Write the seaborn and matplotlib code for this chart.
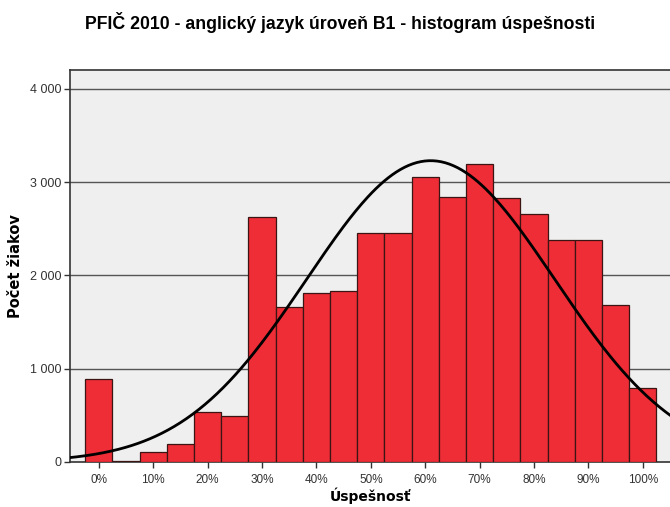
import numpy as np
import pandas as pd
import matplotlib
matplotlib.use('Agg')
import matplotlib.pyplot as plt
import seaborn as sns

sns.set_style('white')
plt.rcParams['font.family'] = ['Liberation Sans', 'DejaVu Sans']

# Dáta odčítané z histogramu (stred intervalu v %, počet žiakov)
uspesnost = [0, 5, 10, 15, 20, 25, 30, 35, 40, 45, 50,
             55, 60, 65, 70, 75, 80, 85, 90, 95, 100]
pocet_ziakov = [890, 10, 107, 193, 539, 493, 2629, 1665, 1815, 1829, 2458,
                2451, 3058, 2844, 3197, 2830, 2662, 2376, 2379, 1686, 796]
x_popisky = ['0%', '10%', '20%', '30%', '40%', '50%',
             '60%', '70%', '80%', '90%', '100%']
y_popisky = ['0', '1 000', '2 000', '3 000', '4 000']

# parametre normálnej krivky
priemer = 61.0
smer_odchylka = 22.8
sirka_intervalu = 5

df = pd.DataFrame({'uspesnost': uspesnost, 'pocet': pocet_ziakov})

fig = plt.figure(figsize=(6.7, 5.07), dpi=100)
ax = fig.add_axes([0.1045, 0.0888, 0.8955, 0.773])
ax.set_facecolor('#efefef')

sns.histplot(data=df, x='uspesnost', weights='pocet', binwidth=sirka_intervalu,
             binrange=(-2.5, 102.5), color='#ee2d36', alpha=1,
             edgecolor='#3b1414', linewidth=0.9, ax=ax, zorder=3)

# normálna krivka
xs = np.linspace(-6, 106, 300)
n = sum(pocet_ziakov)
ys = n * sirka_intervalu / (smer_odchylka * np.sqrt(2 * np.pi)) * \
    np.exp(-(xs - priemer) ** 2 / (2 * smer_odchylka ** 2))
sns.lineplot(x=xs, y=ys, color='black', linewidth=2, ax=ax, zorder=4)

ax.set_xlim(-5.3, 105.0)
ax.set_ylim(0, 4200)
ax.set_xticks(list(range(0, 101, 10)))
ax.set_xticklabels(x_popisky, fontsize=8.5, color='#333333')
ax.set_yticks([0, 1000, 2000, 3000, 4000])
ax.set_yticklabels(y_popisky, fontsize=9, color='#333333')
ax.tick_params(axis='y', direction='out', left=True, length=4, width=1,
               color='#333333', pad=2)
ax.tick_params(axis='x', direction='out', bottom=True, length=4, width=1,
               color='#333333', pad=5)

for y in [1000, 2000, 3000, 4000]:
    ax.axhline(y, color='#555555', linewidth=1, zorder=1)

for s in ['left', 'top', 'bottom']:
    ax.spines[s].set_color('#333333')
    ax.spines[s].set_linewidth(1.2)
ax.spines['right'].set_visible(False)

ax.set_xlabel('Úspešnosť', fontsize=10, fontweight='bold', color='black',
              family='DejaVu Sans', labelpad=1)
ax.set_ylabel('Počet žiakov', fontsize=10.5, fontweight='bold', color='black',
              family='DejaVu Sans', labelpad=5)

fig.text(0.507, 0.955, 'PFIČ 2010 - anglický jazyk úroveň B1 - histogram úspešnosti',
         ha='center', va='center', fontsize=12.7, fontweight='bold', color='black')

plt.savefig('out.png', dpi=100)
